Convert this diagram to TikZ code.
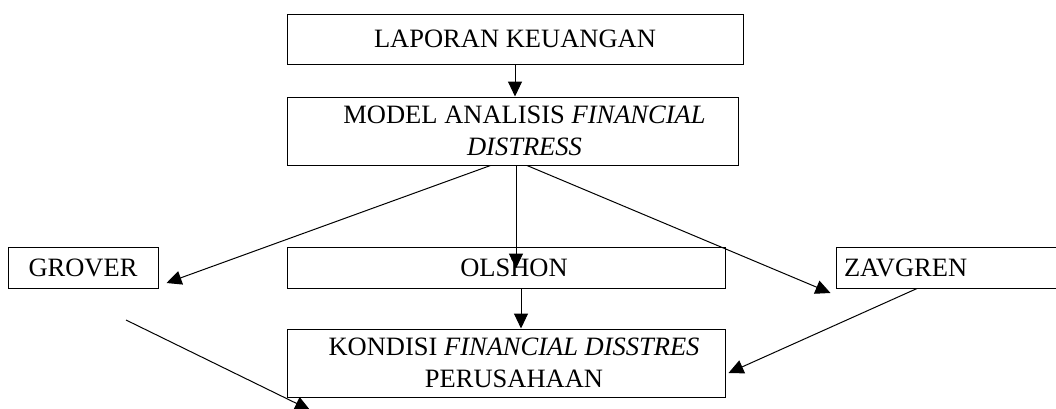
\documentclass[tikz,border=0pt]{standalone}
\usepackage{fontspec}
\setmainfont{Liberation Serif}
\usetikzlibrary{arrows.meta,calc}
\begin{document}
\begin{tikzpicture}[x=1pt,y=-1pt,
  box/.style={draw,line width=1pt,inner sep=0pt,align=center,
    font=\fontsize{26.5}{32}\selectfont},
  arr/.style={line width=1pt,-{Triangle[length=15pt,width=14pt]}},
  ln/.style={line width=1pt}]
\useasboundingbox (0,0) rectangle (1056,408);
\clip (0,0) rectangle (1056,408);
\node[box,minimum width=456pt,minimum height=50pt] (b1) at (515,39) {LAPORAN KEUANGAN};
\node[box,minimum width=451pt,minimum height=68pt] (b2) at (512.5,131)
  {\hspace*{24pt}MODEL ANALISIS \textit{FINANCIAL}\\\hspace*{24pt}\textit{DISTRESS}};
\node[box,minimum width=150pt,minimum height=41pt] (grover) at (83,267.5) {GROVER};
\node[box,minimum width=438pt,minimum height=41pt] (olshon) at (506,267.5) {\hspace*{16pt}OLSHON};
\node[box,minimum width=224pt,minimum height=41pt,text width=208pt,inner xsep=8pt,align=left] (zavgren) at (948,267.5) {ZAVGREN};
\node[box,minimum width=438pt,minimum height=68pt] (kondisi) at (506,363)
  {\hspace*{16pt}KONDISI \textit{FINANCIAL DISSTRES}\\\hspace*{16pt}PERUSAHAAN};
\coordinate (g0) at (126,320);
\coordinate (g1) at (310,410);
\draw[arr] (b1.south) -- (b1.south |- b2.north);
\draw[arr] ($(b2.south)+(-22,0)$) -- ($(grover.east)+(8,15.5)$);
\draw[arr] ($(b2.south)+(3.5,0)$) -- ++(0,103);
\draw[arr] ($(b2.south)+(14.5,0)$) -- ($(zavgren.west)+(-5,25.5)$);
\draw[arr] ($(olshon.south)+(15,0)$) -- ($(kondisi.north)+(15,0)$);
\draw[arr] ($(zavgren.south)+(-31,0)$) -- ($(kondisi.east)+(3,10)$);
\draw[arr] (g0) -- (g1);
\end{tikzpicture}
\end{document}
